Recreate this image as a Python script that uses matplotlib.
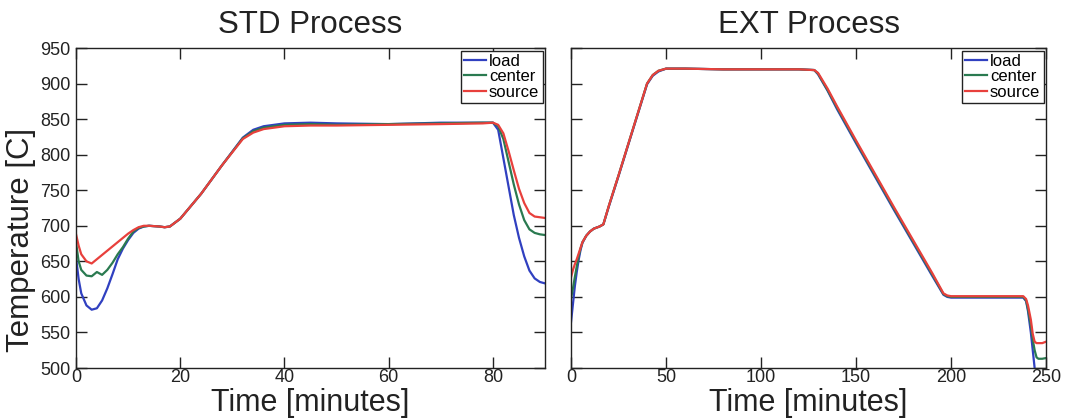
import matplotlib
matplotlib.use("Agg")
import matplotlib.pyplot as plt

plt.rcParams['font.family'] = ['Liberation Sans', 'DejaVu Sans']

# STD process (minutes, temperature in C)
t_std = [0, 0.5, 1, 2, 3, 4, 5, 6, 7, 8, 9, 10, 11, 12, 13,
         14, 16, 17, 18, 20, 24, 28, 32, 34, 36, 40, 45, 50, 60, 70, 78, 80,
         81, 82, 83, 84, 85, 86, 87, 88, 89, 90]
std_load = [655, 625, 605, 588, 582, 584, 595, 612, 632, 653, 668, 680, 690, 696, 699,
            700, 699, 698, 699, 710, 745, 785, 824, 835, 840, 844, 845, 844, 843, 845, 845, 845,
            835, 795, 755, 715, 683, 657, 637, 626, 621, 619]
std_center = [676, 650, 638, 630, 629, 635, 631, 638, 648, 660, 670, 682, 692, 697, 699,
              700, 699, 698, 699, 710, 745, 785, 823, 833, 838, 842, 843, 842, 843, 844, 845, 845,
              840, 822, 790, 758, 730, 708, 695, 690, 688, 687]
std_source = [688, 672, 660, 650, 647, 653, 659, 665, 671, 677, 683, 689, 694, 698, 700,
              700, 699, 698, 699, 710, 745, 785, 822, 831, 836, 840, 841, 841, 842, 843, 844, 845,
              842, 830, 805, 778, 752, 732, 718, 713, 712, 711]

# EXT process
t_ext = [0, 1, 2, 3, 4, 5, 6, 8, 10, 12, 15, 17, 20, 25, 30, 35, 40, 43, 46, 50,
         60, 80, 100, 120, 128, 130, 135, 140, 150, 160, 170, 180, 190, 196, 198,
         200, 220, 238, 239.5, 240.5, 242, 243, 244, 245, 246, 248, 250]
ext_load = [565, 590, 615, 635, 652, 666, 676, 686, 692, 696, 699, 702, 728, 770, 813, 856, 899, 911, 917, 921,
            921, 920, 920, 920, 919, 913, 890, 864, 816, 769, 722, 676, 630, 603, 600,
            599, 599, 599, 594, 580, 550, 525, 500, 480, 470, 470, 470]
ext_center = [598, 612, 628, 643, 657, 668, 677, 686, 692, 696, 699, 702, 729, 771, 814, 857, 900, 912, 918, 921,
              921, 920, 920, 920, 919, 914, 891, 866, 818, 771, 724, 678, 632, 604, 601,
              600, 600, 600, 595, 583, 560, 540, 525, 515, 513, 513, 514]
ext_source = [628, 638, 646, 653, 661, 669, 677, 686, 692, 696, 699, 702, 729, 771, 814, 857, 900, 912, 918, 921,
              921, 920, 920, 920, 919, 915, 893, 868, 820, 773, 726, 680, 634, 605, 602,
              601, 601, 601, 597, 588, 568, 548, 537, 535, 535, 535, 537]

labels = ["load", "center", "source"]
colors = ["#3040c0", "#2a7a50", "#e8403c"]

fig = plt.figure(figsize=(10.65, 4.19), dpi=100)
ax1 = fig.add_axes([0.0714, 0.1217, 0.4404, 0.7637])
ax2 = fig.add_axes([0.5362, 0.1217, 0.4460, 0.7637])

panels = [
    (ax1, "STD Process", t_std, [std_load, std_center, std_source], 90, [0, 20, 40, 60, 80]),
    (ax2, "EXT Process", t_ext, [ext_load, ext_center, ext_source], 250, [0, 50, 100, 150, 200, 250]),
]

for ax, title, t, series, xmax, xt in panels:
    for vals, lab, c in zip(series, labels, colors):
        ax.plot(t, vals, color=c, lw=1.6, label=lab)
    ax.set_xlim(0, xmax)
    ax.set_ylim(500, 950)
    ax.set_xticks(xt)
    ax.set_yticks(range(500, 951, 50))
    ax.tick_params(direction="in", length=8, width=1, top=True, right=True,
                   labelsize=13, colors="#222222")
    ax.tick_params(axis="x", pad=1)
    ax.tick_params(axis="y", pad=4)
    for s in ax.spines.values():
        s.set_linewidth(1)
        s.set_color("#222222")
    ax.set_title(title, fontsize=22.5, pad=11, color="#222222")
    ax.set_xlabel("Time [minutes]", fontsize=22, labelpad=1, color="#222222")
    leg = ax.legend(loc="upper right", fontsize=12, fancybox=False, framealpha=1,
                    edgecolor="#222222", borderaxespad=0.15, borderpad=0.2,
                    labelspacing=0.02, handlelength=1.3, handletextpad=0.2)
    leg.get_frame().set_linewidth(1)

ax1.set_ylabel("Temperature [C]", fontsize=22.5, color="#222222")
ax1.yaxis.set_label_coords(-0.086, 0.40)
ax2.set_yticklabels([])

fig.savefig("out.png", dpi=100)
